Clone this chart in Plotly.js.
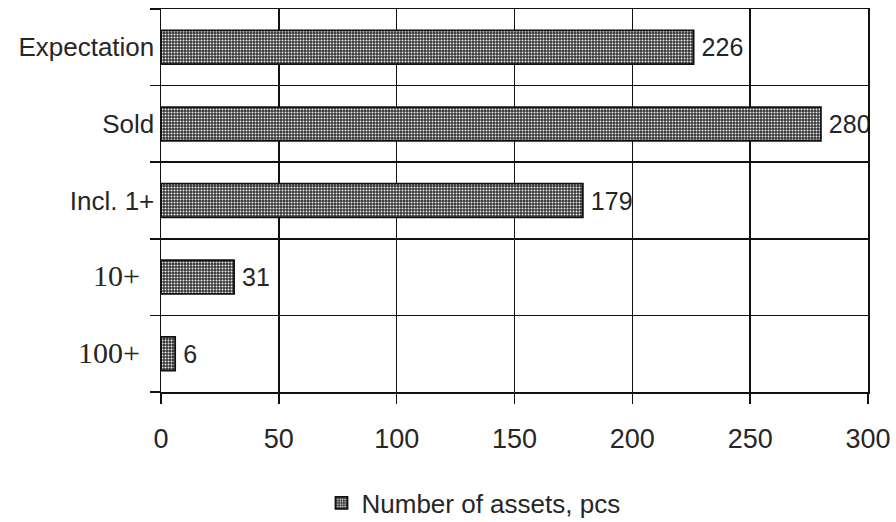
<!DOCTYPE html>
<html>
<head>
<meta charset="utf-8">
<script src="https://cdn.plot.ly/plotly-3.0.1.min.js"></script>
<style>
  html, body { margin: 0; padding: 0; background: #fff; }
  #chart { width: 896px; height: 522px; }
</style>
</head>
<body>
<div id="chart"></div>
<script>
// Asset counts per group
const categories = ['Expectation', 'Sold', 'Incl. 1+', '10+', '100+'];
const assetCounts = [226, 280, 179, 31, 6];
const seriesName = 'Number of assets, pcs';
const xTickValues = [0, 50, 100, 150, 200, 250, 300];

// The two threshold groups are set in a serif face
const serifGroups = ['10+', '100+'];
const categoryLabels = categories.map(c =>
  serifGroups.includes(c)
    ? '<span style="font-family:\'Liberation Serif\', \'Times New Roman\', serif;font-size:30px">' + c + '</span>\u00a0\u00a0'
    : c
);

const sans = 'Liberation Sans, Arial, sans-serif';
const ink = '#262626';

const trace = {
  type: 'bar',
  orientation: 'h',
  y: categories,
  x: assetCounts,
  name: seriesName,
  width: 0.44,
  text: assetCounts.map(String),
  texttemplate: '\u2009%{text}',
  textposition: 'outside',
  constraintext: 'none',
  cliponaxis: false,
  textfont: { family: sans, size: 25, color: ink },
  marker: {
    color: '#4a4a4a',
    line: { color: '#111', width: 1.8 },
    pattern: { shape: '.', size: 3, solidity: 0.35, fgcolor: '#eeeeee', bgcolor: '#333333', fillmode: 'replace' }
  },
  hoverinfo: 'x+y'
};

const layout = {
  width: 896,
  height: 522,
  margin: { l: 161, r: 28, t: 9, b: 130, autoexpand: false },
  paper_bgcolor: '#fff',
  plot_bgcolor: '#fff',
  font: { family: sans, size: 26, color: ink },
  showlegend: true,
  legend: {
    orientation: 'h',
    x: 0.227,
    xanchor: 'left',
    y: -0.29,
    yanchor: 'middle',
    font: { family: sans, size: 26, color: ink },
    itemwidth: 30
  },
  xaxis: {
    range: [0, 300],
    tickmode: 'array',
    tickvals: xTickValues,
    ticks: 'outside',
    ticklen: 10,
    tickwidth: 1.5,
    tickcolor: '#111',
    showgrid: true,
    gridcolor: '#111',
    gridwidth: 1.5,
    showline: true,
    linecolor: '#111',
    linewidth: 1.5,
    mirror: true,
    zeroline: false,
    tickfont: { family: sans, size: 27, color: ink },
    ticklabelstandoff: 12
  },
  yaxis: {
    type: 'category',
    categoryorder: 'array',
    categoryarray: categories,
    autorange: 'reversed',
    tickmode: 'array',
    tickvals: categories,
    ticktext: categoryLabels,
    tickson: 'boundaries',
    ticks: 'outside',
    ticklen: 10,
    tickwidth: 1.5,
    tickcolor: '#111',
    showgrid: true,
    gridcolor: '#111',
    gridwidth: 1.5,
    showline: true,
    linecolor: '#111',
    linewidth: 1.5,
    mirror: true,
    zeroline: false,
    tickfont: { family: sans, size: 26, color: ink },
    ticklabelstandoff: 0
  }
};

Plotly.newPlot('chart', [trace], layout, { displayModeBar: false, staticPlot: true });
</script>
</body>
</html>
